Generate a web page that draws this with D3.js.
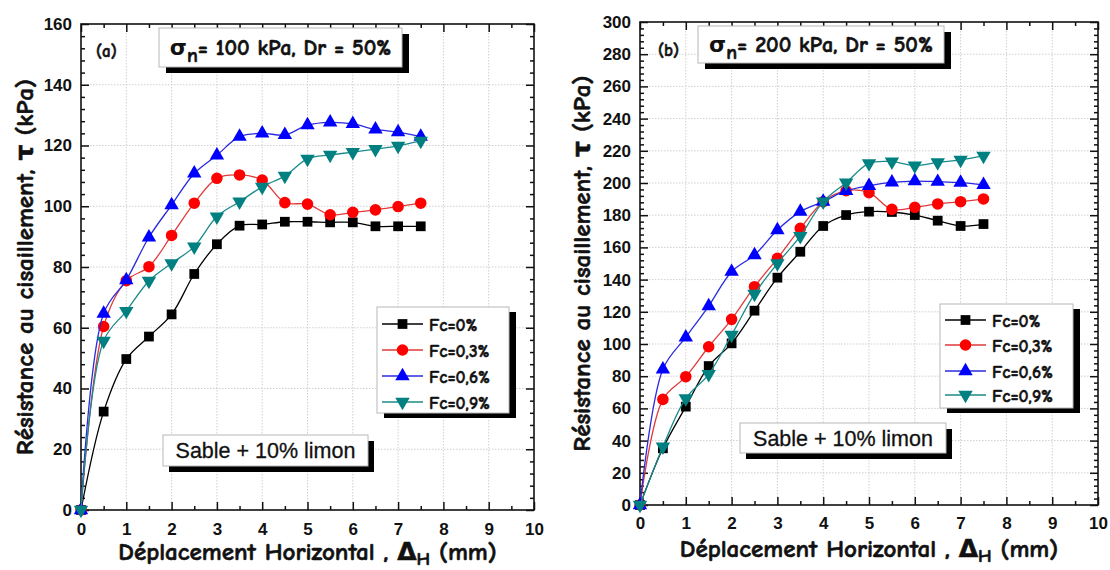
<!DOCTYPE html>
<html>
<head>
<meta charset="utf-8">
<script src="https://cdn.jsdelivr.net/npm/d3@7/dist/d3.min.js"></script>
<style>
  body { margin: 0; background: #fff; }
  svg { display: block; }
</style>
</head>
<body>
<svg id="chart" width="1110" height="570"></svg>
<script>
// Horizontal displacement (mm) at which shear stress was recorded
const displacement = [0, 0.5, 1, 1.5, 2, 2.5, 3, 3.5, 4, 4.5, 5, 5.5, 6, 6.5, 7, 7.5];

// Fibre contents
const seriesNames = ["Fc=0%", "Fc=0,3%", "Fc=0,6%", "Fc=0,9%"];

// (a) sigma_n = 100 kPa : shear stress (kPa)
const tauA_Fc0  = [0, 32.4, 49.7, 57.1, 64.4, 77.7, 87.5, 93.6, 94.0, 94.9, 94.9, 94.7, 94.7, 93.4, 93.4, 93.4];
const tauA_Fc03 = [0, 60.4, 75.5, 80.1, 90.4, 101.0, 109.2, 110.3, 108.6, 101.2, 100.7, 97.2, 98.0, 98.8, 99.9, 101.0];
const tauA_Fc06 = [0, 64.7, 75.7, 89.8, 100.4, 110.8, 116.8, 122.9, 124.0, 123.5, 126.7, 127.6, 127.1, 125.3, 124.4, 122.9];
const tauA_Fc09 = [0, 55.7, 65.5, 75.4, 81.2, 86.7, 96.6, 101.5, 106.4, 110.0, 115.6, 116.9, 117.8, 118.8, 119.9, 121.5];

// (b) sigma_n = 200 kPa : shear stress (kPa)
const tauB_Fc0  = [0, 35.2, 61.1, 86.3, 100.4, 120.7, 141.2, 157.3, 173.3, 180.1, 182.2, 182.0, 180.1, 176.6, 173.3, 174.5];
const tauB_Fc03 = [0, 65.6, 79.7, 98.3, 115.3, 135.6, 153.2, 171.8, 188.4, 195.2, 194.0, 183.6, 184.9, 187.0, 188.4, 190.1];
const tauB_Fc06 = [0, 84.3, 104.2, 123.6, 144.9, 155.3, 170.8, 182.2, 188.4, 195.2, 198.3, 200.4, 201.2, 200.8, 200.2, 198.8];
const tauB_Fc09 = [0, 36.2, 66.2, 81.2, 105.6, 131.1, 150.0, 167.0, 188.4, 200.2, 212.2, 213.3, 210.8, 212.8, 214.3, 216.8];

// Tick labels
const xTicks  = [0, 1, 2, 3, 4, 5, 6, 7, 8, 9, 10];
const yTicksA = [0, 20, 40, 60, 80, 100, 120, 140, 160];
const yTicksB = [0, 20, 40, 60, 80, 100, 120, 140, 160, 180, 200, 220, 240, 260, 280, 300];

const svg = d3.select("#chart");

const comicFont = "'Comic Sans MS', 'Comic Neue', 'DejaVu Sans', sans-serif";
const tickFont = "'Liberation Sans', Arial, sans-serif";

const styles = [
  { line: "#000000", fill: "#000000", symbol: d3.symbolSquare,   size: 95,  rotate: 0 },
  { line: "#e03a3a", fill: "#ff0000", symbol: d3.symbolCircle,   size: 105, rotate: 0 },
  { line: "#2a2ae0", fill: "#0000ff", symbol: d3.symbolTriangle, size: 90,  rotate: 0 },
  { line: "#1a8a8a", fill: "#008080", symbol: d3.symbolTriangle, size: 90,  rotate: 180 }
];

// heavy comic-style text (thickened with a thin outline)
function heavy(sel, w) {
  return sel.attr("font-family", comicFont).attr("font-weight", "bold")
    .attr("fill", "#111").attr("stroke", "#111").attr("stroke-width", w)
    .attr("paint-order", "stroke");
}

function shadowBox(g, x, y, w, h, dx, dy) {
  g.append("rect").attr("x", x + dx).attr("y", y + dy).attr("width", w).attr("height", h)
    .attr("fill", "#000");
  g.append("rect").attr("x", x).attr("y", y).attr("width", w).attr("height", h)
    .attr("fill", "#fff").attr("stroke", "#b8b8b8").attr("stroke-width", 1);
}

function drawPanel(p) {
  const g = svg.append("g");
  const x = d3.scaleLinear().domain([0, 10]).range([p.left, p.right]);
  const y = d3.scaleLinear().domain([0, p.yMax]).range([p.bottom, p.top]);

  // dotted grid at major ticks
  const grid = g.append("g").attr("stroke", "#cfcfcf").attr("stroke-width", 1)
    .attr("stroke-dasharray", "1.5,1.5");
  grid.selectAll(".gx").data(xTicks.slice(1, -1)).join("line")
    .attr("x1", d => x(d)).attr("x2", d => x(d)).attr("y1", p.top).attr("y2", p.bottom);
  grid.selectAll(".gy").data(p.yTicks.slice(1, -1)).join("line")
    .attr("y1", d => y(d)).attr("y2", d => y(d)).attr("x1", p.left).attr("x2", p.right);

  const xMinor = d3.range(0.5, 10, 1);
  const yMinor = d3.range(0, p.yMax + 0.001, 4).filter(v => v % 20 !== 0);

  function axisGroup(axis, tx, ty) {
    const a = g.append("g").attr("transform", `translate(${tx},${ty})`).call(axis);
    a.select(".domain").remove();
    a.selectAll(".tick line").attr("stroke", "#111").attr("stroke-width", 1.5);
    return a;
  }

  // bottom axis with labels
  const bx = axisGroup(d3.axisBottom(x).tickValues(xTicks).tickSize(-8).tickPadding(p.xPad)
    .tickFormat(d3.format("d")), 0, p.bottom);
  bx.selectAll("text").attr("font-family", tickFont).attr("font-weight", "bold")
    .attr("font-size", 17).attr("fill", "#111");
  axisGroup(d3.axisBottom(x).tickValues(xMinor).tickSize(-4).tickFormat(""), 0, p.bottom);
  // top mirror
  axisGroup(d3.axisTop(x).tickValues(xTicks).tickSize(-8).tickFormat(""), 0, p.top);
  axisGroup(d3.axisTop(x).tickValues(xMinor).tickSize(-4).tickFormat(""), 0, p.top);

  // left axis with labels
  const ly = axisGroup(d3.axisLeft(y).tickValues(p.yTicks).tickSize(-8).tickPadding(9)
    .tickFormat(d3.format("d")), p.left, 0);
  ly.selectAll("text").attr("font-family", tickFont).attr("font-weight", "bold")
    .attr("font-size", 17).attr("fill", "#111");
  axisGroup(d3.axisLeft(y).tickValues(yMinor).tickSize(-4).tickFormat(""), p.left, 0);
  // right mirror
  axisGroup(d3.axisRight(y).tickValues(p.yTicks).tickSize(-8).tickFormat(""), p.right, 0);
  axisGroup(d3.axisRight(y).tickValues(yMinor).tickSize(-4).tickFormat(""), p.right, 0);

  // frame
  g.append("rect").attr("x", p.left).attr("y", p.top)
    .attr("width", p.right - p.left).attr("height", p.bottom - p.top)
    .attr("fill", "none").attr("stroke", "#111").attr("stroke-width", 1.6);

  // curves
  const line = d3.line().x(d => x(d[0])).y(d => y(d[1])).curve(d3.curveCatmullRom.alpha(0.5));
  p.series.forEach((vals, i) => {
    const st = styles[i];
    const pts = displacement.map((d, k) => [d, vals[k]]);
    g.append("path").datum(pts).attr("d", line)
      .attr("fill", "none").attr("stroke", st.line).attr("stroke-width", 1.3);
    g.selectAll(null).data(pts).join("path")
      .attr("d", d3.symbol().type(st.symbol).size(st.size))
      .attr("transform", d => `translate(${x(d[0])},${y(d[1])}) rotate(${st.rotate})`)
      .attr("fill", st.fill);
  });

  // panel tag
  heavy(g.append("text").attr("x", p.tagX).attr("y", p.tagY).text(p.tag)
    .attr("font-size", 17), 0.5);

  // condition box
  shadowBox(g, p.titleBox[0], p.titleBox[1], p.titleBox[2], p.titleBox[3], 7, 6);
  const t = heavy(g.append("text")
    .attr("x", p.titleBox[0] + p.titleBox[2] / 2).attr("y", p.titleBox[1] + p.titleBox[3] / 2 + 7)
    .attr("text-anchor", "middle").attr("font-size", 22), 0.6);
  t.append("tspan").text("σ").attr("stroke-width", 0);
  t.append("tspan").text("n").attr("dy", 7).attr("font-size", 20);
  t.append("tspan").text(p.titleText).attr("dy", -7);

  // material box
  shadowBox(g, p.matBox[0], p.matBox[1], p.matBox[2], p.matBox[3], 6, 6);
  g.append("text").attr("x", p.matBox[0] + p.matBox[2] / 2).attr("y", p.matBox[1] + p.matBox[3] / 2 + 7.5)
    .attr("text-anchor", "middle").attr("font-family", tickFont)
    .attr("font-size", 21.5).attr("fill", "#111").attr("stroke", "#111").attr("stroke-width", 0.3)
    .text("Sable + 10% limon");

  // legend
  const L = p.legend;
  shadowBox(g, L.x, L.y, L.w, L.h, 7, 5);
  seriesNames.forEach((name, i) => {
    const st = styles[i];
    const ry = L.y + L.rows[i];
    g.append("line").attr("x1", L.x + 5).attr("x2", L.x + 46).attr("y1", ry).attr("y2", ry)
      .attr("stroke", st.line).attr("stroke-width", 1.5);
    g.append("path").attr("d", d3.symbol().type(st.symbol).size(st.size)())
      .attr("transform", `translate(${L.x + 25.5},${ry}) rotate(${st.rotate})`).attr("fill", st.fill);
    heavy(g.append("text").attr("x", L.x + 52).attr("y", ry + 6.5).text(name)
      .attr("font-size", 17.5), 0.5);
  });

  // axis titles
  const xt = heavy(g.append("text").attr("x", (p.left + p.right) / 2).attr("y", p.xTitleY)
    .attr("text-anchor", "middle").attr("font-size", 25), 0.6);
  xt.append("tspan").text("Déplacement Horizontal , Δ");
  xt.append("tspan").text("H").attr("dy", 5).attr("font-size", 19);
  xt.append("tspan").text(" (mm)").attr("dy", -5);

  heavy(g.append("text")
    .attr("transform", `translate(${p.yTitleX},${(p.top + p.bottom) / 2}) rotate(-90)`)
    .attr("text-anchor", "middle").attr("font-size", 25)
    .text("Résistance au cisaillement, τ (kPa)"), 0.6);
}

drawPanel({
  left: 81, right: 534, top: 24, bottom: 510, yMax: 160, yTicks: yTicksA, xPad: 13,
  series: [tauA_Fc0, tauA_Fc03, tauA_Fc06, tauA_Fc09],
  tag: "(a)", tagX: 96, tagY: 57,
  titleBox: [159, 28, 243, 39], titleText: "= 100 kPa, Dr = 50%",
  matBox: [163, 435, 205, 31],
  legend: { x: 377, y: 307, w: 132, h: 106, rows: [17, 43, 69, 95] },
  xTitleY: 560, yTitleX: 33
});

drawPanel({
  left: 640, right: 1098, top: 22, bottom: 505, yMax: 300, yTicks: yTicksB, xPad: 12,
  series: [tauB_Fc0, tauB_Fc03, tauB_Fc06, tauB_Fc09],
  tag: "(b)", tagX: 658, tagY: 56,
  titleBox: [698, 26, 246, 37], titleText: "= 200 kPa, Dr = 50%",
  matBox: [740, 423, 206, 30],
  legend: { x: 940, y: 304, w: 133, h: 104, rows: [16, 41, 67, 91] },
  xTitleY: 557, yTitleX: 590
});
</script>
</body>
</html>
